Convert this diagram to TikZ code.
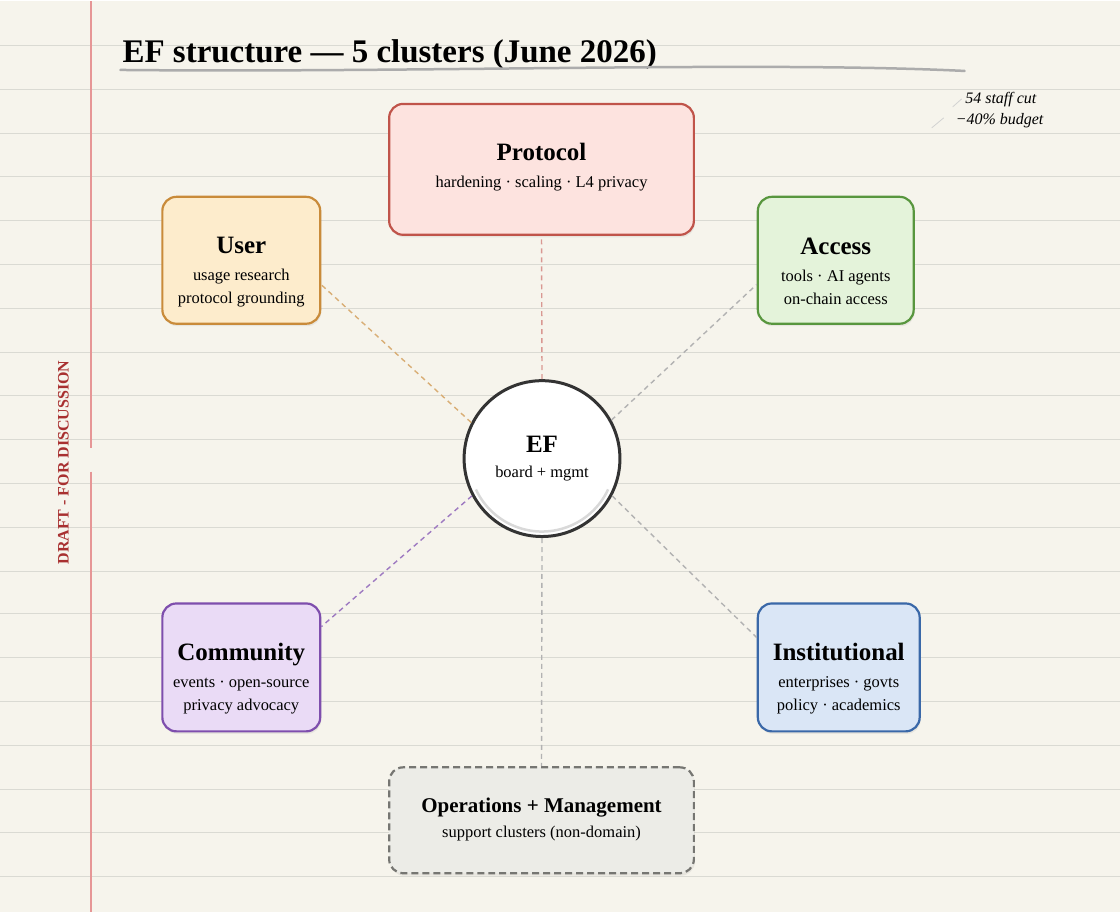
\documentclass[tikz,border=0pt]{standalone}
\usepackage{fontspec}
\setmainfont{Liberation Serif}
\usepackage{tikz}
\usetikzlibrary{shadows}
\definecolor{paper}{RGB}{246,244,236}
\definecolor{ruleline}{RGB}{218,218,211}
\definecolor{marginred}{RGB}{230,150,150}
\definecolor{draftred}{RGB}{168,48,48}
\definecolor{protofill}{RGB}{253,227,223}
\definecolor{protoline}{RGB}{192,84,74}
\definecolor{userfill}{RGB}{253,236,204}
\definecolor{userline}{RGB}{201,139,58}
\definecolor{accessfill}{RGB}{228,243,218}
\definecolor{accessline}{RGB}{88,150,62}
\definecolor{commfill}{RGB}{234,219,246}
\definecolor{commline}{RGB}{126,78,173}
\definecolor{instfill}{RGB}{218,230,246}
\definecolor{instline}{RGB}{58,104,168}
\definecolor{opsfill}{RGB}{236,236,231}
\definecolor{opsline}{RGB}{118,118,114}

\begin{document}
\begin{tikzpicture}[x=1pt, y=-1pt,
    box/.style={rectangle, rounded corners=14pt, line width=2.2pt, drop shadow={opacity=0.12, shadow xshift=1pt, shadow yshift=-2.5pt}},
    sub/.style={font=\fontsize{16.5}{23}\selectfont, align=center},
    hub/.style={circle, draw=black!80, line width=3pt, fill=white, minimum size=156pt, align=center, font=\fontsize{16.5}{21}\selectfont},
    link/.style={line width=1.4pt, dash pattern=on 5pt off 4pt},
    rule/.style={draw=ruleline, line width=1pt},
    note/.style={font=\fontsize{16}{20}\selectfont\itshape, anchor=east, inner sep=0pt}]

\fill [paper] (0,0) rectangle (1120,912);
\foreach \i in {0,...,19} {
  \pgfmathsetmacro{\ry}{44.5+round(43.8*\i)}
  \draw [rule] (0,\ry) -- (1120,\ry);
}
\draw [draw=marginred, line width=2pt] (91,0) -- (91,447) (91,471) -- (91,912);

\node [rotate=90, text=draftred, font=\fontsize{16}{18}\selectfont\bfseries] (draft) at (63,462) {DRAFT - FOR DISCUSSION};

\node [anchor=base west, inner sep=0pt, font=\fontsize{33}{36}\selectfont\bfseries] (title) at (122,62) {EF structure — 5 clusters (June 2026)};
\draw [gray!65, line width=2.5pt, line cap=round] (120,69) .. controls (420,72) and (760,60) .. (965,70);

\node [note] (staff) at (1037,99) {54 staff cut};
\node [note] (budget) at (1044,120) {−40\% budget};
\draw [gray!35, line width=0.8pt] (932,127) -- (944,117) (953,106) -- (962,98);

\node [box, draw=protoline, fill=protofill, minimum width=305pt, minimum height=131pt] (protocol) at (541.5,168.5) {};
\node [sub] (protocoltxt) at (541.5,166) {{\fontsize{25}{28}\selectfont\bfseries Protocol}\\[4pt] hardening · scaling · L4 privacy};

\node [box, draw=userline, fill=userfill, minimum width=158pt, minimum height=127pt] (user) at (241,259.5) {};
\node [sub] (usertxt) at (241,271) {{\fontsize{25}{28}\selectfont\bfseries User}\\[4pt] usage research\\ protocol grounding};

\node [box, draw=accessline, fill=accessfill, minimum width=156pt, minimum height=127pt] (access) at (836,259.5) {};
\node [sub] (accesstxt) at (836,271) {{\fontsize{25}{28}\selectfont\bfseries Access}\\[4pt] tools · AI agents\\ on-chain access};

\node [box, draw=commline, fill=commfill, minimum width=158pt, minimum height=128pt] (community) at (241,667) {};
\node [sub] (communitytxt) at (241,678) {{\fontsize{25}{28}\selectfont\bfseries Community}\\[4pt] events · open-source\\ privacy advocacy};

\node [box, draw=instline, fill=instfill, minimum width=162pt, minimum height=128pt] (institutional) at (839,667) {};
\node [sub] (institutionaltxt) at (839,678) {{\fontsize{25}{28}\selectfont\bfseries Institutional}\\[4pt] enterprises · govts\\ policy · academics};

\node [box, draw=opsline, fill=opsfill, dash pattern=on 7pt off 4pt, minimum width=305pt, minimum height=106pt] (ops) at (541.5,820) {};
\node [sub] (opstxt) at (541.5,819) {{\fontsize{21}{24}\selectfont\bfseries Operations + Management}\\[2pt] support clusters (non-domain)};

\node [hub] (ef) at (542,458) {{\fontsize{25}{28}\selectfont\bfseries EF}\\[5pt] board + mgmt};
\draw [gray!30, line width=2.5pt] (ef.center) ++(25:73) arc (25:155:73);

\draw [link, draw=protoline!60] (ef.north) -- (protocol.south);
\draw [link, draw=userline!70] (ef.153) -- (user.-17);
\draw [link, draw=gray!60] (ef.29) -- (access.197);
\draw [link, draw=commline!75] (ef.208) -- (community.27);
\draw [link, draw=gray!60] (ef.332) -- (institutional.160);
\draw [link, draw=gray!60] (ef.south) -- (ops.north);

\end{tikzpicture}
\end{document}
